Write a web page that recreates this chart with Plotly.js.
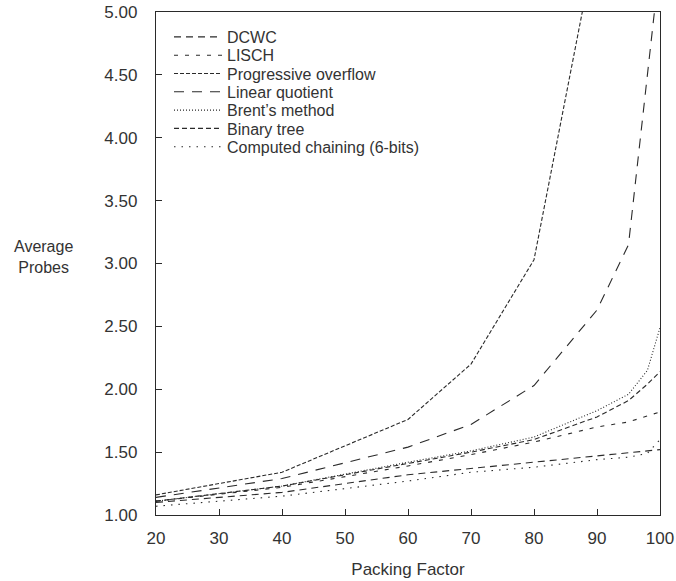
<!DOCTYPE html>
<html>
<head>
<meta charset="utf-8">
<script src="https://cdn.plot.ly/plotly-3.0.1.min.js"></script>
<style>html,body{margin:0;padding:0;background:#fff;}#chart{width:676px;height:581px;}</style>
</head>
<body>
<div id="chart"></div>
<script>
// Packing factor (%) positions
const packing = [20, 40, 60, 70, 80, 90, 95, 98, 100];

// Average probes per method (null = no visible kink read there)
const dcwc        = [1.10, 1.18, 1.32, 1.37, 1.42, 1.47, 1.50, null, 1.52];
const lisch       = [1.11, 1.22, 1.39, 1.48, 1.58, 1.70, 1.74, null, 1.82];
const progressive = [1.16, 1.34, 1.76, 2.20, 3.03, 5.60, null, null, null];
const linearQuot  = [1.14, 1.29, 1.54, 1.72, 2.03, 2.63, 3.15, null, 5.40];
const brent       = [1.11, 1.23, 1.42, 1.51, 1.62, 1.83, 1.96, 2.15, 2.49];
const binaryTree  = [1.11, 1.23, 1.41, 1.50, 1.60, 1.78, 1.91, 2.04, 2.14];
const computed    = [1.07, 1.15, 1.27, 1.34, 1.38, 1.44, 1.46, 1.49, 1.60];

const names = ["DCWC", "LISCH", "Progressive overflow", "Linear quotient",
               "Brent\u2019s method", "Binary tree", "Computed chaining (6-bits)"];
const series = [dcwc, lisch, progressive, linearQuot, brent, binaryTree, computed];
const dashes = ["7px,5px", "4px,7px", "4px,2px", "10px,8px", "1px,2px", "5px,3px", "1.5px,6px"];

const ink = "#2a2a2a";
const fam = "Liberation Sans, Arial, sans-serif";
const font = {family: fam, size: 17, color: "#333"};

const traces = series.map((ys, i) => ({
  x: packing, y: ys, name: names[i], type: "scatter", mode: "lines",
  connectgaps: true, legend: i === 0 ? "legend" : "legend" + (i + 1),
  line: {color: ink, width: 1.1, dash: dashes[i]}
}));

const layout = {
  width: 676, height: 581,
  margin: {l: 156, r: 16, t: 12, b: 66},
  paper_bgcolor: "#fff", plot_bgcolor: "#fff",
  font: font,
  showlegend: true,
  xaxis: {range: [20, 100], tickvals: [20,30,40,50,60,70,80,90,100],
          ticks: "inside", ticklen: 6, tickcolor: ink,
          showline: true, linecolor: ink, linewidth: 1.2, mirror: true,
          showgrid: false, zeroline: false, ticklabelstandoff: 7,
          tickfont: font,
          title: {text: "Packing Factor", font: font, standoff: 16}},
  yaxis: {range: [1, 5], dtick: 0.5, tickformat: ".2f",
          ticks: "inside", ticklen: 6, tickcolor: ink,
          showline: true, linecolor: ink, linewidth: 1.2, mirror: true,
          showgrid: false, zeroline: false, ticklabelstandoff: 14,
          tickfont: font},
  annotations: [{text: "Average<br>Probes", xref: "paper", yref: "paper",
                 x: -0.223, y: 0.512, xanchor: "center", yanchor: "middle",
                 showarrow: false, font: {family: fam, size: 16, color: "#333"}}]
};

// One single-entry legend per method, stacked like the printed key
const plotTop = 12, plotH = 503;
names.forEach((n, i) => {
  const key = i === 0 ? "legend" : "legend" + (i + 1);
  const yPix = 37 + 18.3 * i;
  layout[key] = {x: 0.0258, y: 1 - (yPix - plotTop) / plotH,
                 xanchor: "left", yanchor: "middle",
                 bgcolor: "rgba(0,0,0,0)", borderwidth: 0,
                 font: {family: fam, size: 16, color: "#333"},
                 itemwidth: 48};
});

Plotly.newPlot("chart", traces, layout, {displayModeBar: false, staticPlot: true});
</script>
</body>
</html>
